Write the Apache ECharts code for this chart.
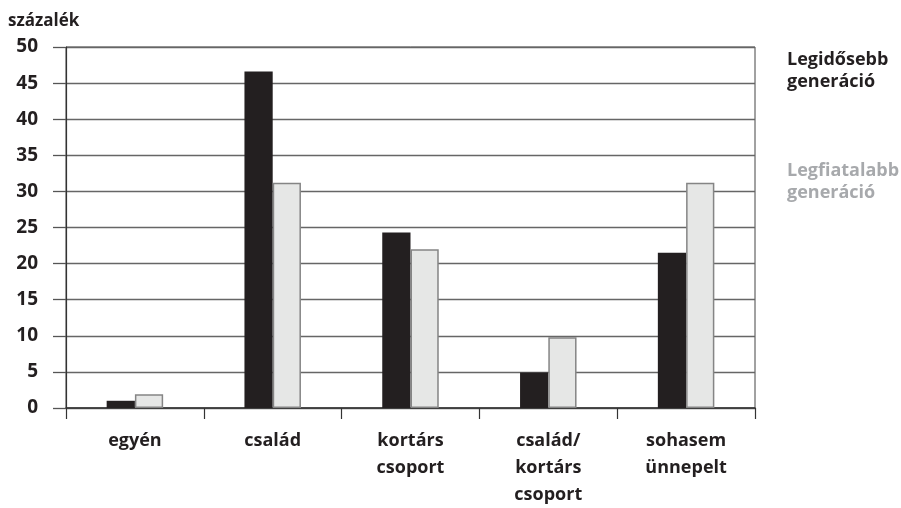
<!DOCTYPE html>
<html>
<head>
<meta charset="utf-8">
<script src="https://cdn.jsdelivr.net/npm/echarts@6/dist/echarts.min.js"></script>
<style>
  html, body { margin: 0; padding: 0; background: #ffffff; }
  #chart { width: 901px; height: 508px; }
</style>
</head>
<body>
<div id="chart"></div>
<script>
var categories = ['egyén', 'család', 'kortárs\ncsoport', 'család/\nkortárs\ncsoport', 'sohasem\nünnepelt']
var seriesNames = ['Legidősebb\ngeneráció', 'Legfiatalabb\ngeneráció']
var oldestValues = [1.0, 46.6, 24.3, 4.9, 21.5]
var youngestValues = [1.9, 31.2, 22.0, 9.8, 31.2]

var fontFamily = '"Open Sans", "DejaVu Sans", sans-serif'
var textColor = '#231f20'

var myChart = echarts.init(document.getElementById('chart'))
var option = {
  animation: false,
  title: {
    text: 'százalék',
    left: 3,
    top: 8,
    textStyle: {
      fontFamily: fontFamily,
      fontSize: 17,
      fontWeight: 'bold',
      color: textColor
    }
  },
  legend: {
    orient: 'vertical',
    left: 776,
    top: 44,
    itemWidth: 0,
    itemHeight: 0,
    itemGap: 67,
    selectedMode: false,
    textStyle: {
      fontFamily: fontFamily,
      fontSize: 18,
      fontWeight: 'bold',
      lineHeight: 22
    },
    data: [
      { name: seriesNames[0], textStyle: { color: textColor } },
      { name: seriesNames[1], textStyle: { color: '#a7a9ac' } }
    ]
  },
  grid: {
    left: 66,
    right: 146,
    top: 47,
    bottom: 96,
    show: true,
    borderColor: '#444444',
    borderWidth: 1
  },
  xAxis: {
    type: 'category',
    data: categories,
    axisLine: { lineStyle: { color: '#333333', width: 1.5 } },
    axisTick: {
      show: true,
      length: 11,
      lineStyle: { color: '#333333', width: 1.2 }
    },
    axisLabel: {
      interval: 0,
      margin: 19,
      fontFamily: fontFamily,
      fontSize: 18,
      fontWeight: 'bold',
      lineHeight: 27,
      color: textColor,
      verticalAlign: 'top'
    }
  },
  yAxis: {
    type: 'value',
    min: 0,
    max: 50,
    interval: 5,
    axisLine: { show: true, lineStyle: { color: '#333333', width: 1.2 } },
    axisTick: {
      show: true,
      length: 13,
      lineStyle: { color: '#555555', width: 1.3 }
    },
    splitLine: { lineStyle: { color: '#666666', width: 1.3 } },
    axisLabel: {
      margin: 28,
      fontFamily: fontFamily,
      fontSize: 19,
      fontWeight: 'bold',
      color: textColor
    }
  },
  series: [
    {
      name: seriesNames[0],
      type: 'bar',
      data: oldestValues,
      barGap: '0%',
      barCategoryGap: '59%',
      itemStyle: { color: '#231f20' }
    },
    {
      name: seriesNames[1],
      type: 'bar',
      data: youngestValues,
      itemStyle: { color: '#e6e7e6', borderColor: '#858585', borderWidth: 1.5 }
    }
  ]
}
myChart.setOption(option)
</script>
</body>
</html>
